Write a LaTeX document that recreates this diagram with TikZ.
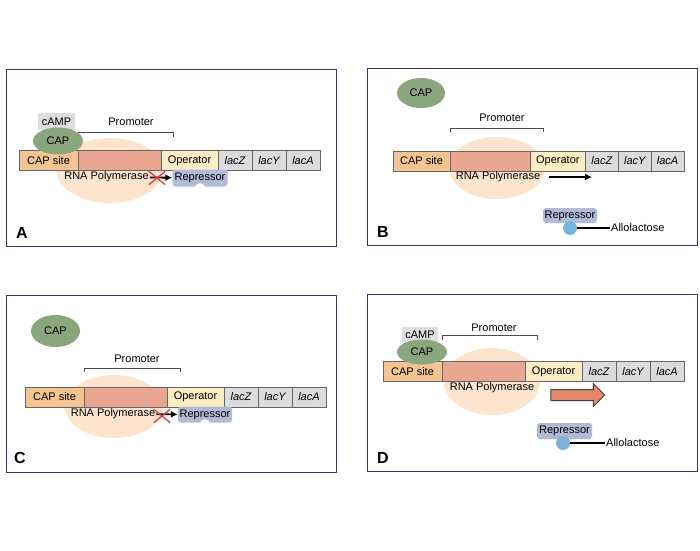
\documentclass[tikz,border=0pt]{standalone}
\usepackage{fontspec}
\setmainfont{Liberation Sans}
\usetikzlibrary{arrows.meta, positioning, shapes.misc, shapes.arrows, shapes.geometric}

\definecolor{siteC}{RGB}{245,196,146}
\definecolor{proC}{RGB}{233,166,144}
\definecolor{opC}{RGB}{253,236,196}
\definecolor{genC}{RGB}{220,220,222}
\definecolor{rnapC}{RGB}{252,228,206}
\definecolor{capC}{RGB}{138,166,124}
\definecolor{campC}{RGB}{222,222,222}
\definecolor{repC}{RGB}{178,186,214}
\definecolor{alloC}{RGB}{120,180,222}
\definecolor{xC}{RGB}{225,60,60}
\definecolor{goC}{RGB}{226,135,105}
\definecolor{frameC}{RGB}{62,52,100}

\newcommand\lab{\fontsize{11}{13}\selectfont}

\tikzset{
  seg/.style={draw=gray!80!black, line width=0.6pt, minimum height=20, inner sep=0, outer sep=0, font=\lab},
  pics/lacbar/.style={code={
    \node[seg, fill=siteC, minimum width=#1*59, anchor=west] (-site) at (0,0) {CAP site};
    \node[seg, fill=proC, minimum width=#1*83, anchor=west] (-pro) at (-site.east) {};
    \node[seg, fill=opC, minimum width=#1*57, anchor=west] (-op) at (-pro.east) {Operator};
    \node[seg, fill=genC, minimum width=#1*34, anchor=west] (-lz) at (-op.east) {\itshape lacZ};
    \node[seg, fill=genC, minimum width=#1*34, anchor=west] (-ly) at (-lz.east) {\itshape lacY};
    \node[seg, fill=genC, minimum width=#1*34, anchor=west] (-la) at (-ly.east) {\itshape lacA};
  }},
  panel/.style={draw=frameC, line width=1.3pt, minimum width=330, minimum height=177, inner sep=0, anchor=north west},
  tag/.style={font=\fontsize{16}{18}\selectfont\bfseries, inner sep=0},
  lbl/.style={font=\lab, inner sep=1pt},
  rnap/.style={ellipse, fill=rnapC, inner sep=0},
  capell/.style={ellipse, fill=capC, font=\lab, inner sep=0, minimum width=50},
  camp/.style={fill=campC, font=\lab, inner sep=0, minimum width=37, minimum height=17},
  rep/.style={fill=repC, rounded corners=3pt, font=\lab, inner sep=0, minimum width=55, minimum height=16},
  notch/.style={circle, fill=white, minimum size=11, inner sep=0},
  allo/.style={circle, fill=alloC, minimum size=14, inner sep=0},
  xmark/.style={cross out, draw=xC, line width=1.3pt, minimum width=15, minimum height=12, inner sep=0},
  brk/.style={draw=black!70, line width=0.7pt},
  arr/.style={-{Latex[length=7pt,width=7pt]}, line width=1.8pt},
  goarr/.style={single arrow, draw=black!75, line width=1pt, fill=goC, minimum height=54, inner sep=5pt, single arrow head extend=6pt},
}

\begin{document}
\begin{tikzpicture}[x=1pt, y=-1pt]
  \useasboundingbox (0,0) rectangle (700,550);

  % A: glucose present, no lactose
  \node[panel] (pA) at (6,69) {};
  \node[rnap, minimum width=106, minimum height=65] (A-rnap) at (110,170.5) {};
  \pic (A) at (19,160.5) {lacbar=1};
  \draw[brk] ([yshift=14]A-pro.north west) |- ([xshift=12,yshift=18]A-op.north west) -- ++(0,4);
  \node[lbl] (A-prom) at (131,122) {Promoter};
  \node[camp] (A-camp) at (56.5,121.5) {cAMP};
  \node[capell, minimum height=27] (A-cap) at (58,141) {CAP};
  \node[lbl] (A-rt) at (106.5,177) {RNA Polymerase};
  \node[rep, minimum height=17] (A-rep) at (200,178) {Repressor};
  \node[notch] at ([yshift=-2]A-rep.south) {};
  \draw[arr] (A-rt) -- (A-rep);
  \node[xmark] (A-x) at (157,178) {};
  \node[tag] (A-tag) at (22,233) {A};

  % B: lactose present, no cAMP on CAP
  \node[panel] (pB) at (367,68) {};
  \node[capell, minimum width=48, minimum height=30] (B-cap) at (421,93) {CAP};
  \node[rnap, minimum width=96, minimum height=62] (B-rnap) at (497,168) {};
  \pic (B) at (393,161) {lacbar=0.967};
  \draw[brk] ([yshift=19]B-pro.north west) |- ([xshift=13,yshift=23]B-op.north west) -- ++(0,4);
  \node[lbl] (B-prom) at (502,118) {Promoter};
  \node[lbl] (B-rt) at (498,177) {RNA Polymerase};
  \coordinate (B-tip) at (592,177);
  \draw[arr] ([xshift=8]B-rt.east) -- (B-tip);
  \node[rep, minimum width=54, minimum height=15] (B-rep) at (570,215.5) {Repressor};
  \node[allo] (B-al) at (570,228) {};
  \node[lbl, anchor=west] (B-alt) at (610,228) {Allolactose};
  \draw[line width=1.4pt] (B-al) -- (B-alt);
  \node[tag] (B-tag) at (383,232) {B};

  % C: no glucose, no lactose
  \node[panel] (pC) at (6,295) {};
  \node[capell, minimum width=49, minimum height=32] (C-cap) at (55.5,331) {CAP};
  \node[rnap, minimum width=98, minimum height=63] (C-rnap) at (114,406.5) {};
  \pic (C) at (25,397) {lacbar=1};
  \draw[brk] ([yshift=15]C-pro.north west) |- ([xshift=13,yshift=19]C-op.north west) -- ++(0,4);
  \node[lbl] (C-prom) at (137,359) {Promoter};
  \node[lbl] (C-rt) at (113,414) {RNA Polymerase};
  \node[rep, minimum width=54] (C-rep) at (205,414.5) {Repressor};
  \node[notch] at ([yshift=-2]C-rep.south) {};
  \draw[arr] (C-rt) -- (C-rep);
  \node[xmark] (C-x) at (162,416) {};
  \node[tag] (C-tag) at (20,458) {C};

  % D: no glucose, lactose present
  \node[panel] (pD) at (367,294) {};
  \node[rnap, minimum width=96, minimum height=67] (D-rnap) at (492,381.5) {};
  \pic (D) at (383,371.5) {lacbar=1};
  \draw[brk] ([yshift=22]D-pro.north west) |- ([xshift=12,yshift=26]D-op.north west) -- ++(0,4);
  \node[lbl] (D-prom) at (494,328) {Promoter};
  \node[camp, minimum width=36, minimum height=15] (D-camp) at (420,334.5) {cAMP};
  \node[capell, minimum height=25] (D-cap) at (422,352) {CAP};
  \node[lbl] (D-rt) at (492,388) {RNA Polymerase};
  \node[goarr] (D-go) at (575,395) {};
  \node[rep] (D-rep) at (564.5,431) {Repressor};
  \node[allo] (D-al) at (563,443) {};
  \node[lbl, anchor=west] (D-alt) at (605,443) {Allolactose};
  \draw[line width=1.4pt] (D-al) -- (D-alt);
  \node[tag] (D-tag) at (383,458) {D};
\end{tikzpicture}
\end{document}
